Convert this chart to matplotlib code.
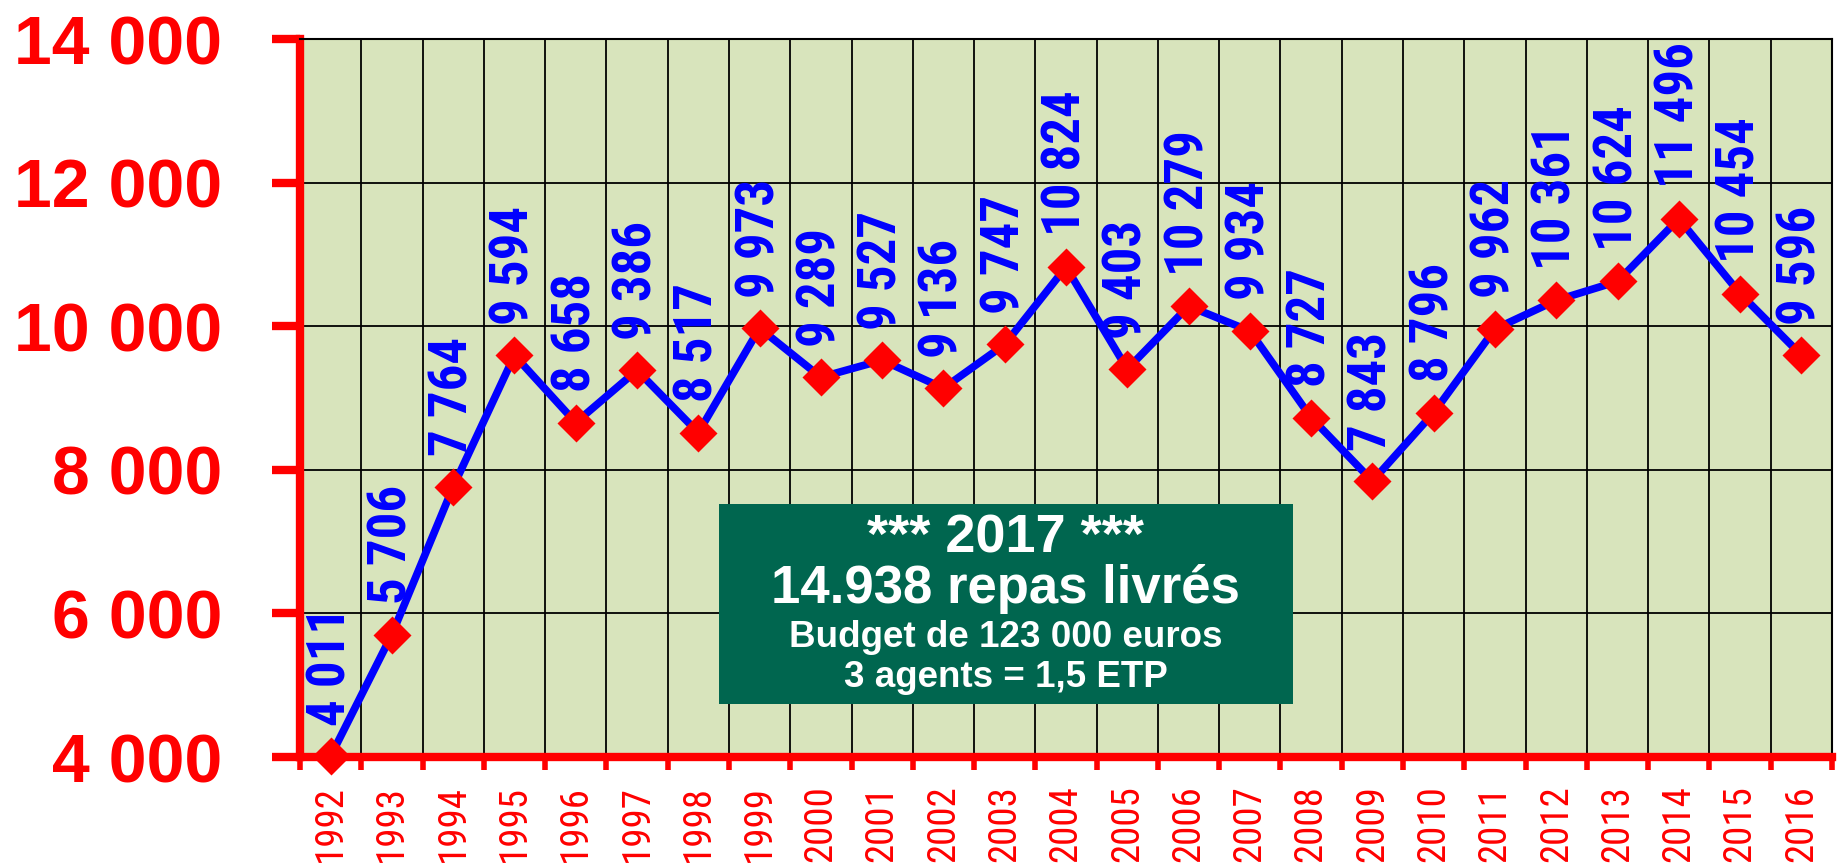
import numpy as np
import matplotlib
matplotlib.use("Agg")
import matplotlib.pyplot as plt
from matplotlib import font_manager as fm
from matplotlib.patches import Rectangle

# Données
years = [str(y) for y in range(1992, 2017)]
repas = [4011, 5706, 7764, 9594, 8658, 9386, 8517, 9973, 9289, 9527, 9136, 9747,
         10824, 9403, 10279, 9934, 8727, 7843, 8796, 9962, 10361, 10624, 11496,
         10454, 9596]
y_ticks = [4000, 6000, 8000, 10000, 12000, 14000]
box_lines = ["*** 2017 ***", "14.938 repas livrés", "Budget de 123 000 euros",
             "3 agents = 1,5 ETP"]

# police étroite si dispo, sinon Liberation Sans un peu plus petite
avail = {f.name for f in fm.fontManager.ttflist}
narrow = None
for cand in ['Liberation Sans Narrow', 'Arial Narrow', 'Roboto Condensed']:
    if cand in avail:
        narrow = cand
        break
if narrow:
    font_n = [narrow, 'Liberation Sans', 'DejaVu Sans']
    sz_x, sz_lab = 28, 38
else:
    font_n = ['Liberation Sans', 'DejaVu Sans']
    sz_x, sz_lab = 24, 31
plt.rcParams['font.family'] = ['Liberation Sans', 'DejaVu Sans']


def fmt(v):
    return f"{v:,}".replace(",", " ")


fig = plt.figure(figsize=(18.37, 8.63), dpi=100)
ax = fig.add_axes([0.1633, 0.1228, 0.834, 0.832])
ax.set_facecolor('#D8E4BC')

x = np.arange(len(years))
ax.plot(x, repas, color='#0000FF', lw=5.5, zorder=3, clip_on=False)
ax.plot(x, repas, ls='none', marker='D', ms=19.5, color='#FF0000',
        mec='none', zorder=4, clip_on=False)

for xi, v in zip(x, repas):
    ax.annotate(fmt(v), (xi, v), xytext=(0, 22), textcoords='offset points',
                rotation=90, ha='center', va='bottom', color='#0000FF',
                fontsize=sz_lab, fontweight='bold', family=font_n, zorder=5)

ax.set_xlim(-0.5, len(years) - 0.5)
ax.set_ylim(4000, 14000)

ax.set_xticks(x)
ax.set_xticklabels(years, rotation=90, color='#FF0000', fontsize=sz_x,
                   family=font_n)
ax.set_xticks(np.arange(-0.5, len(years)), minor=True)
ax.tick_params(axis='x', which='major', length=0, pad=20)
ax.tick_params(axis='x', which='minor', length=9, width=4, color='#FF0000')

ax.set_yticks(y_ticks)
ax.set_yticklabels([fmt(v) for v in y_ticks], color='#FF0000', fontsize=49,
                   fontweight='bold')
ax.tick_params(axis='y', length=20, width=6, color='#FF0000', pad=36)

ax.grid(True, axis='y', which='major', color='black', lw=1.3)
ax.grid(True, axis='x', which='minor', color='black', lw=1.3)
ax.set_axisbelow(True)

for s in ['left', 'bottom']:
    ax.spines[s].set_color('#FF0000')
    ax.spines[s].set_linewidth(6)
for s in ['top', 'right']:
    ax.spines[s].set_color('black')
    ax.spines[s].set_linewidth(1.5)

# Encadré 2017
bx, by, bw, bh = 0.2735, 0.0738, 0.3745, 0.278
ax.add_patch(Rectangle((bx, by), bw, bh, transform=ax.transAxes,
                       facecolor='#00664F', edgecolor='none', zorder=6))
cx = bx + bw / 2
ax.text(cx, 0.304, box_lines[0], transform=ax.transAxes, ha='center', va='center',
        color='white', fontsize=39, fontweight='bold', zorder=7)
ax.text(cx, 0.234, box_lines[1], transform=ax.transAxes, ha='center', va='center',
        color='white', fontsize=38, fontweight='bold', zorder=7)
ax.text(cx, 0.166, box_lines[2], transform=ax.transAxes, ha='center', va='center',
        color='white', fontsize=26.5, fontweight='bold', zorder=7)
ax.text(cx, 0.111, box_lines[3], transform=ax.transAxes, ha='center', va='center',
        color='white', fontsize=26.5, fontweight='bold', zorder=7)

fig.savefig('out.png', dpi=100)
